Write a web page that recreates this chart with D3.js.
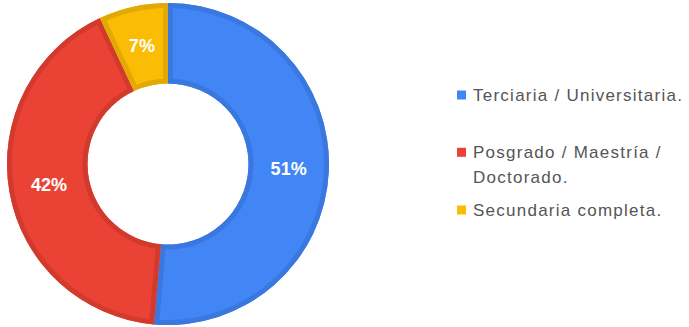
<!DOCTYPE html>
<html>
<head>
<meta charset="utf-8">
<script src="https://cdn.jsdelivr.net/npm/d3@7"></script>
<style>
  html, body { margin: 0; padding: 0; background: #ffffff; }
  svg { display: block; }
</style>
</head>
<body>
<svg id="chart" width="689" height="327"></svg>
<script>
// Respondents by highest level of education completed
const categories = ["Terciaria / Universitaria.", "Posgrado / Maestría / Doctorado.", "Secundaria completa."];
const counts = [37, 30, 5];
const fillColors = ["#4285f4", "#ea4335", "#fbbc04"];
const edgeColors = ["#3a78e0", "#d23a2e", "#e2a904"];
// Legend text split across lines where it wraps
const legendLines = [["Terciaria / Universitaria."], ["Posgrado / Maestría /", "Doctorado."], ["Secundaria completa."]];

const svg = d3.select("#chart");
const cx = 168, cy = 164, outerR = 161, innerR = 80.5;

const total = d3.sum(counts);
const pie = d3.pie().sort(null).value(d => d)(counts);
const arc = d3.arc().innerRadius(innerR).outerRadius(outerR);
const labelArc = d3.arc().innerRadius((innerR + outerR) / 2).outerRadius((innerR + outerR) / 2);

const g = svg.append("g").attr("transform", `translate(${cx},${cy})`);
const defs = svg.append("defs");

pie.forEach((p, i) => {
  defs.append("clipPath").attr("id", "slice-clip-" + i)
    .append("path").attr("d", arc(p));
});

const slices = g.selectAll("g.slice").data(pie).join("g").attr("class", "slice");

slices.append("path")
  .attr("d", arc)
  .attr("fill", (d, i) => fillColors[i]);

// Darker inset rim along each slice's edges
slices.append("path")
  .attr("d", arc)
  .attr("fill", "none")
  .attr("stroke", (d, i) => edgeColors[i])
  .attr("stroke-width", 10)
  .attr("stroke-linejoin", "miter")
  .attr("clip-path", (d, i) => `url(#slice-clip-${i})`);

slices.append("text")
  .attr("transform", d => `translate(${labelArc.centroid(d)})`)
  .attr("text-anchor", "middle")
  .attr("dominant-baseline", "central")
  .attr("font-family", "'Liberation Sans', Arial, sans-serif")
  .attr("font-weight", "bold")
  .attr("font-size", "18px")
  .attr("fill", "#ffffff")
  .text(d => Math.round(d.value / total * 100) + "%");

// Legend
const legendX = 457, textX = 473;
const firstBaselines = [101, 158.3, 216];
const lineStep = 25;

const legend = svg.append("g").attr("class", "legend");
categories.forEach((c, i) => {
  const item = legend.append("g");
  item.append("rect")
    .attr("x", legendX)
    .attr("y", firstBaselines[i] - 10.5)
    .attr("width", 9)
    .attr("height", 9)
    .attr("fill", fillColors[i]);
  const t = item.append("text")
    .attr("x", textX)
    .attr("y", firstBaselines[i])
    .attr("font-family", "'Liberation Sans', Arial, sans-serif")
    .attr("font-size", "17px")
    .attr("letter-spacing", "1.25px")
    .attr("fill", "#555555");
  legendLines[i].forEach((line, j) => {
    t.append("tspan").attr("x", textX).attr("dy", j === 0 ? 0 : lineStep).text(line);
  });
});
</script>
</body>
</html>
